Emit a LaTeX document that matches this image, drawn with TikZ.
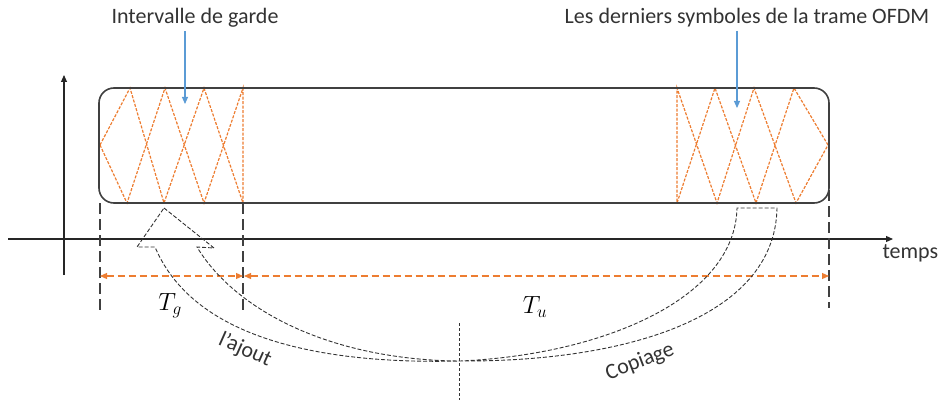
\documentclass[tikz,border=0pt]{standalone}
\usepackage{fontspec}
\setmainfont{Carlito}
\usepackage{xcolor}
\usepackage{tikz}
\usetikzlibrary{arrows.meta, positioning}

\definecolor{orangeoff}{RGB}{237,125,49}
\definecolor{bluepointer}{RGB}{91,155,213}

\begin{document}
\begin{tikzpicture}[
      x=1pt, y=-1pt,
      >={Triangle[length=7pt, width=6pt]},
      every node/.style={font=\fontsize{22}{26}\selectfont, text=black!80},
      axis/.style={line width=1.1pt, draw=black!85},
      frame/.style={line width=1.6pt, draw=black!75, rounded corners=15pt},
      zigzag/.style={draw=orangeoff, line width=1.2pt, dash pattern=on 3pt off 1.5pt},
      bound/.style={line width=1.2pt, draw=black!75, dash pattern=on 11pt off 5pt},
      span/.style={<->, draw=orangeoff, line width=1.2pt, dash pattern=on 7pt off 4pt},
      pointer/.style={->, draw=bluepointer, line width=1.1pt},
      blockarrow/.style={line width=0.9pt, draw=black!80, dash pattern=on 4pt off 2pt},
    ]

    \useasboundingbox (0,0) rectangle (939,401);

    \coordinate (ybot) at (64,275);
    \coordinate (ytop) at (64,75);
    \coordinate (xleft) at (8,239);
    \coordinate (xright) at (893,239);
    \coordinate (fnw) at (99,88);
    \coordinate (fse) at (829,203);

    \draw[zigzag] (100,145) -- (130,88) -- (164,203) -- (204,88) -- (243,203)
      -- (243,88) -- (204,203) -- (165,88) -- (127,203) -- cycle;
    \draw[zigzag] (828,145) -- (794,88) -- (756,203) -- (715,88) -- (677,203)
      -- (677,88) -- (717,203) -- (754,88) -- (796,203) -- cycle;
    \draw[frame] (fnw) rectangle (fse);

    \draw[axis, ->] (ybot) -- (ytop);
    \draw[axis, ->] (xleft) -- (xright);
    \node[below right=2pt and -14pt of xright] (temps) {temps};

    \coordinate (ga) at (100,203);
    \coordinate (gb) at (243,203);
    \coordinate (gc) at (829,190);
    \draw[bound] (ga) -- ++(0,107);
    \draw[bound] (gb) -- ++(0,109);
    \draw[bound] (gc) -- ++(0,118);

    \draw[span] (100,276) -- (243,276);
    \draw[span] (244,276) -- (829,276);
    \node[text=black, font=\fontsize{24}{28}\selectfont] (tg) at (170,306) {$T_g$};
    \node[text=black, font=\fontsize{24}{28}\selectfont] (tu) at (535,307) {$T_u$};

    \node (guard) at (195,18) {Intervalle de garde};
    \node (last) at (747,18) {Les derniers symboles de la trame OFDM};
    \coordinate (gi) at (185,104);
    \coordinate (li) at (737,108);
    \draw[pointer] (gi |- guard.south) -- (gi);
    \draw[pointer] (li |- last.south) -- (li);

    \coordinate (tip) at (164,208);
    \coordinate (low) at (460,361);
    \draw[blockarrow] (tip) -- (214,248) -- (197,247)
      .. controls (235,310) and (330,360) .. (low)
      .. controls (600,355) and (735,300) .. (737,208)
      -- (777,208)
      .. controls (775,320) and (620,362) .. (low)
      .. controls (300,365) and (190,330) .. (155,247)
      -- (137,247) -- cycle;
    \draw[line width=0.9pt, draw=black!80, dash pattern=on 3pt off 2pt]
      (459,323) -- (459,400);

    \node[rotate=-24] (ajout) at (245,350) {l'ajout};
    \node[rotate=21] (copie) at (640,362) {Copiage};

  \end{tikzpicture}
\end{document}
